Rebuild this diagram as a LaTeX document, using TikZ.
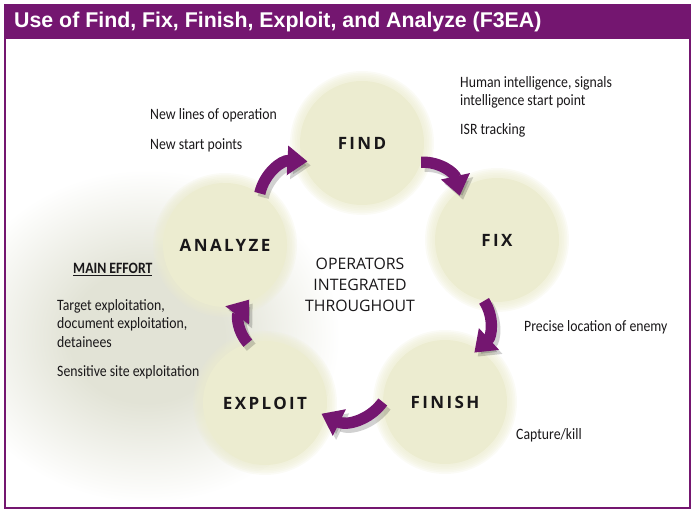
\documentclass[tikz,border=0pt]{standalone}
\usepackage{fontspec}
\usepackage{xcolor}
\definecolor{fpurple}{RGB}{116,22,112}
\definecolor{fcream}{RGB}{236,236,208}
\definecolor{fhaze}{RGB}{226,227,214}
\definecolor{ftext}{RGB}{25,23,25}
\newfontfamily\titlefont{Liberation Sans}
\newfontfamily\notefont{Carlito}[FakeStretch=0.87]
\newfontfamily\stepfont{Open Sans}[LetterSpace=14]
\newfontfamily\hubfont{Open Sans}
\usetikzlibrary{arrows.meta,backgrounds}
\pgfdeclareradialshading{haze}{\pgfpointorigin}{color(0bp)=(fhaze); color(10bp)=(fhaze); color(25bp)=(white); color(50bp)=(white)}

\begin{document}
\begin{tikzpicture}[
  stepblob/.style={circle,fill=fcream,minimum size=3.72cm,inner sep=0pt,text=ftext,font=\stepfont\fontsize{14.5}{16}\selectfont\bfseries},
  sidenote/.style={anchor=west,align=left,inner sep=0pt,text=ftext,font=\notefont\fontsize{13.5}{15.5}\selectfont},
  cyclearrow/.style={-{Triangle[length=6mm,width=8.5mm]},line width=3.4mm,fpurple,shorten >=-0.15cm},
  cycleshadow/.style={cyclearrow,draw=black,opacity=0.18,transform canvas={shift={(0.1,-0.12)}}}]
  \useasboundingbox (0,0) rectangle (20.91,15.48);
  % Frame and title bar
  \fill[fpurple] (0.11,14.31) rectangle (20.74,15.36);
  \draw[fpurple,line width=0.075cm] (0.15,0.24) rectangle (20.70,14.35);
  \node[anchor=base west,inner sep=0pt,text=white,font=\titlefont\fontsize{18.2}{20}\selectfont\bfseries] (title) at (0.42,14.64) {Use of Find, Fix, Finish, Exploit, and Analyze (F3EA)};
  % Steps
  \node[stepblob] (find) at (10.86,11.19) {FIND};
  \node[stepblob] (fix) at (14.91,8.28) {FIX};
  \node[stepblob] (finish) at (13.35,3.42) {FINISH};
  \node[stepblob] (exploit) at (7.95,3.39) {EXPLOIT};
  \node[stepblob] (analyze) at (6.75,8.13) {ANALYZE};
  % Centre text
  \node[align=center,text=ftext,font=\hubfont\fontsize{13.5}{18}\selectfont] (hub) at (10.8,6.93) {OPERATORS\\INTEGRATED\\THROUGHOUT};
  % Haze and soft edges
  \begin{pgfonlayer}{background}
    \begin{scope}
      \clip (0.19,0.28) rectangle (20.66,14.31);
      \shade[shading=haze] (4.4,5.4) ellipse (5.8 and 5.0);
      \foreach \s in {find,fix,finish,exploit,analyze}
        \foreach \g in {1,...,6}
          \fill[fcream,opacity=0.2] (\s.center) circle ({1.86+0.05*\g});
    \end{scope}
  \end{pgfonlayer}
  % Arrows
  \draw[cycleshadow] (analyze.56) to[bend left=40] (find.197);
  \draw[cyclearrow] (analyze.56) to[bend left=40] (find.197);
  \draw[cycleshadow] (find.-18) to[bend left=40] (fix.128);
  \draw[cyclearrow] (find.-18) to[bend left=40] (fix.128);
  \draw[cycleshadow] (fix.-102) to[bend left=40] (finish.58);
  \draw[cyclearrow] (fix.-102) to[bend left=40] (finish.58);
  \draw[cycleshadow] (finish.180) to[bend left=40] (exploit.-12);
  \draw[cyclearrow] (finish.180) to[bend left=40] (exploit.-12);
  \draw[cycleshadow] (exploit.106) to[bend left=40] (analyze.-70);
  \draw[cyclearrow] (exploit.106) to[bend left=40] (analyze.-70);
  % Notes
  \node[sidenote] (newlines) at (4.5,12.03) {New lines of operation};
  \node[sidenote] (newstart) at (4.5,11.13) {New start points};
  \node[sidenote] (humint) at (13.8,12.705) {Human intelligence, signals\\intelligence start point};
  \node[sidenote] (isr) at (13.8,11.58) {ISR tracking};
  \node[sidenote] (precise) at (15.72,5.67) {Precise location of enemy};
  \node[sidenote] (capture) at (15.48,2.43) {Capture/kill};
  \node[sidenote,font=\notefont\fontsize{13.5}{15.5}\selectfont\bfseries] (maineffort) at (2.19,7.38) {\underline{MAIN EFFORT}};
  \node[sidenote] (targets) at (1.71,5.775) {Target exploitation,\\document exploitation,\\detainees};
  \node[sidenote] (sensitive) at (1.71,4.32) {Sensitive site exploitation};
\end{tikzpicture}
\end{document}
